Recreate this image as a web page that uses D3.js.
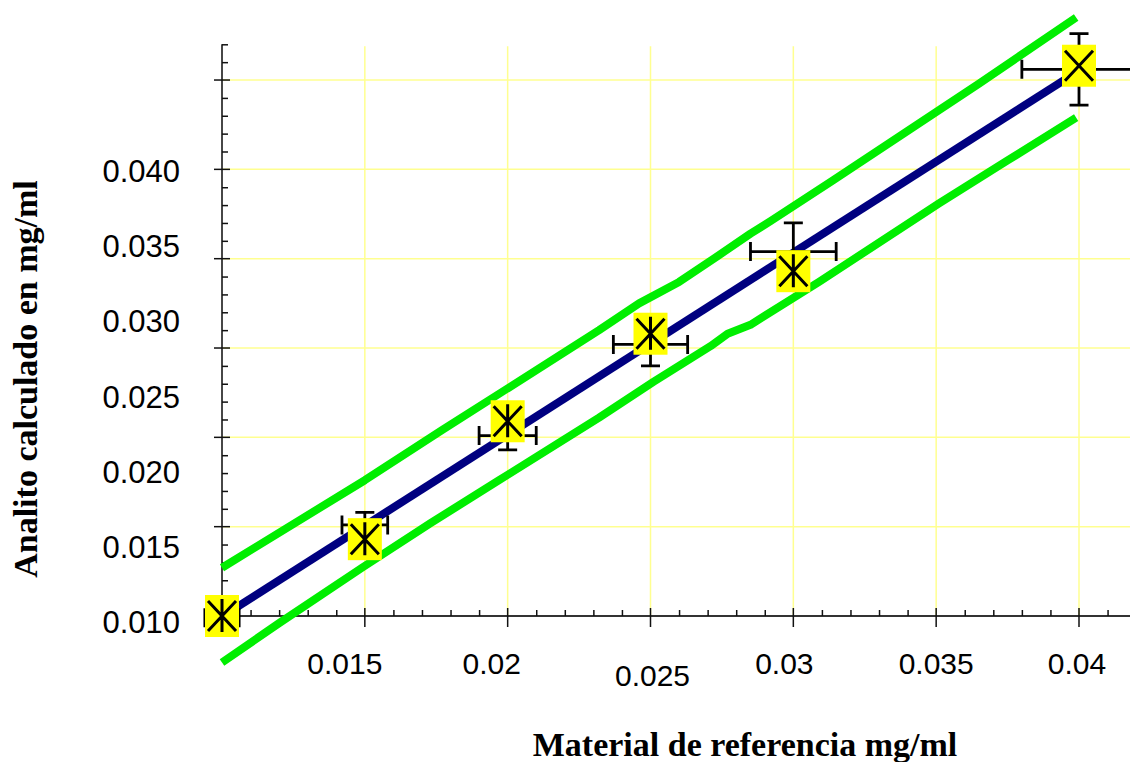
<!DOCTYPE html>
<html>
<head>
<meta charset="utf-8">
<script src="https://cdn.jsdelivr.net/npm/d3@7"></script>
<style>
  html, body { margin: 0; padding: 0; background: #ffffff; }
  svg { display: block; }
</style>
</head>
<body>
<svg id="chart" width="1130" height="762"></svg>
<script>
// Material de referencia (mg/ml) y analito calculado (mg/ml)
const referencia = [0.010, 0.015, 0.020, 0.025, 0.030, 0.040];
const calculado  = [0.0100, 0.0143, 0.0209, 0.0258, 0.0293, 0.0408];
// Media de las réplicas y su incertidumbre (barras de error)
const media      = [0.0099, 0.0151, 0.0201, 0.0252, 0.0304, 0.0406];
const errorX     = [0.0006, 0.0008, 0.0010, 0.0013, 0.0015, 0.0020];
const errorY     = [0.0008, 0.0007, 0.0008, 0.0012, 0.0016, 0.0020];

// Recta de regresión
const regresionX = [0.010, 0.040];
const regresionY = [0.00996, 0.04053];

// Límites de confianza
const bandaSupX = [0.0100, 0.0150, 0.0177, 0.0232, 0.0246, 0.0260, 0.0274, 0.0285, 0.0292, 0.0314, 0.0365, 0.0399];
const bandaSupY = [0.0127, 0.0176, 0.0204, 0.0260, 0.0275, 0.0287, 0.0302, 0.0314, 0.0321, 0.0344, 0.0398, 0.0435];
const bandaInfX = [0.0100, 0.0120, 0.0149, 0.0173, 0.0197, 0.0232, 0.0251, 0.0271, 0.0277, 0.0285, 0.0309, 0.0351, 0.0375, 0.0399];
const bandaInfY = [0.0074, 0.0096, 0.0127, 0.0152, 0.0176, 0.0211, 0.0231, 0.0251, 0.0258, 0.0263, 0.0287, 0.0331, 0.0355, 0.0379];

// Ejes
const xTicks = [0.015, 0.020, 0.025, 0.030, 0.035, 0.040];
const xTickLabels = ["0.015", "0.02", "0.025", "0.03", "0.035", "0.04"];
const yTicks = [0.015, 0.020, 0.025, 0.030, 0.035, 0.040];
const yTickLabels = ["0.010", "0.015", "0.020", "0.025", "0.030", "0.035", "0.040"];
const yLabelValues = [0.010, 0.015, 0.020, 0.025, 0.030, 0.035, 0.040];

const xTitle = "Material de referencia mg/ml";
const yTitle = "Analito calculado en mg/ml";

// ---- layout ----
const W = 1130, H = 762;
const plotLeft = 222, plotBottom = 616, plotTop = 44.3;
const svg = d3.select("#chart");

const x = d3.scaleLinear().domain([0.010, 0.040]).range([plotLeft, 1079]);
const y = d3.scaleLinear().domain([0.010, 0.042]).range([plotBottom, plotTop]);
// the value column beside the vertical axis is spaced on its own
const yLabelPos = d3.scaleLinear().domain([0.010, 0.040]).range([plotBottom + 6, plotBottom - 445]);
// small horizontal offsets of the value labels under the axis
const xLabelNudge = [-20, -16, 2, -9, 0, -2];
const xLabelDrop = [0, 0, 12, 0, 0, 0];

const gridColor = "#ffff90";
const axisColor = "#333";

// grid
const grid = svg.append("g");
grid.selectAll("line.v").data(xTicks).join("line")
  .attr("x1", d => x(d)).attr("x2", d => x(d))
  .attr("y1", plotBottom).attr("y2", plotTop + 2)
  .attr("stroke", gridColor).attr("stroke-width", 1.5);
grid.selectAll("line.h").data(yTicks).join("line")
  .attr("x1", plotLeft).attr("x2", W)
  .attr("y1", d => y(d)).attr("y2", d => y(d))
  .attr("stroke", gridColor).attr("stroke-width", 1.5);

// axes: minor ticks through d3.axis, major ticks crossing the line
const xMinor = d3.range(11, 42).map(i => i / 1000).filter(v => Math.round(v * 1000) % 5 !== 0);
const yMinor = d3.range(11, 43).map(i => i / 1000).filter(v => Math.round(v * 1000) % 5 !== 0);

const xAxis = svg.append("g").attr("transform", `translate(0,${plotBottom})`)
  .call(d3.axisTop(x).tickValues(xMinor).tickSize(6).tickSizeOuter(0).tickFormat(""));
xAxis.select(".domain").attr("d", `M${plotLeft},0H${W}`)
  .attr("stroke", axisColor).attr("stroke-width", 1.8);
xAxis.selectAll(".tick line").attr("stroke", "#111").attr("stroke-width", 1.5);
xAxis.selectAll(".major").data(xTicks).join("line").attr("class", "major")
  .attr("x1", d => x(d)).attr("x2", d => x(d))
  .attr("y1", -8).attr("y2", 11)
  .attr("stroke", "#111").attr("stroke-width", 1.5);

const yAxis = svg.append("g").attr("transform", `translate(${plotLeft},0)`)
  .call(d3.axisRight(y).tickValues(yMinor).tickSize(6).tickSizeOuter(0).tickFormat(""));
yAxis.select(".domain").attr("d", `M0,${plotTop}V${plotBottom}`)
  .attr("stroke", axisColor).attr("stroke-width", 1.8);
yAxis.selectAll(".tick line").attr("stroke", "#111").attr("stroke-width", 1.5);
yAxis.selectAll(".major").data(yTicks).join("line").attr("class", "major")
  .attr("x1", -8).attr("x2", 8)
  .attr("y1", d => y(d)).attr("y2", d => y(d))
  .attr("stroke", "#111").attr("stroke-width", 1.5);

// tick labels
svg.append("g").selectAll("text").data(xTickLabels).join("text")
  .attr("x", (d, i) => x(xTicks[i]) + xLabelNudge[i])
  .attr("y", (d, i) => plotBottom + 58 + xLabelDrop[i])
  .attr("text-anchor", "middle")
  .attr("font-family", "'Liberation Sans', Arial, sans-serif")
  .attr("font-size", 30).attr("fill", "#000")
  .text(d => d);

svg.append("g").selectAll("text").data(yTickLabels).join("text")
  .attr("x", 180)
  .attr("y", (d, i) => yLabelPos(yLabelValues[i]))
  .attr("dy", "0.36em")
  .attr("text-anchor", "end")
  .attr("font-family", "'Liberation Sans', Arial, sans-serif")
  .attr("font-size", 31).attr("fill", "#000")
  .text(d => d);

// titles
svg.append("text")
  .attr("x", 745).attr("y", 756)
  .attr("text-anchor", "middle")
  .attr("font-family", "'Liberation Serif', 'Times New Roman', serif")
  .attr("font-weight", "bold").attr("font-size", 34).attr("fill", "#000")
  .text(xTitle);
svg.append("text")
  .attr("transform", "translate(37,379) rotate(-90)")
  .attr("text-anchor", "middle")
  .attr("font-family", "'Liberation Serif', 'Times New Roman', serif")
  .attr("font-weight", "bold").attr("font-size", 34).attr("fill", "#000")
  .text(yTitle);

// confidence bands and regression line
const line = d3.line().x(d => x(d[0])).y(d => y(d[1]));
const bandColor = "#00ee00";
svg.append("path").datum(d3.zip(bandaSupX, bandaSupY))
  .attr("d", line).attr("fill", "none").attr("stroke", bandColor)
  .attr("stroke-width", 8).attr("stroke-linejoin", "round");
svg.append("path").datum(d3.zip(bandaInfX, bandaInfY))
  .attr("d", line).attr("fill", "none").attr("stroke", bandColor)
  .attr("stroke-width", 8).attr("stroke-linejoin", "round");
svg.append("path").datum(d3.zip(regresionX, regresionY))
  .attr("d", line).attr("fill", "none").attr("stroke", "#000080")
  .attr("stroke-width", 8);

// error bars
const puntos = referencia.map((r, i) => ({
  ref: r, calc: calculado[i], media: media[i], ex: errorX[i], ey: errorY[i], i
}));
const cap = 9.5;
const eb = svg.append("g").attr("stroke", "#000").attr("stroke-width", 2.8).attr("fill", "none");
puntos.forEach(p => {
  const cx = x(p.ref), cy = y(p.media);
  const x0 = x(p.ref - p.ex), x1 = x(p.ref + p.ex);
  const y0 = y(p.media - p.ey), y1 = y(p.media + p.ey);
  eb.append("path").attr("d",
    `M${x0},${cy}H${x1}` +
    `M${x0},${cy - cap}V${cy + cap}M${x1},${cy - cap}V${cy + cap}` +
    `M${cx},${y0}V${y1}` +
    `M${cx - cap},${y0}H${cx + cap}M${cx - cap},${y1}H${cx + cap}`);
});

// markers: yellow square with asterisk
const mk = svg.append("g").selectAll("g").data(puntos).join("g")
  .attr("transform", d => `translate(${x(d.ref)},${y(d.calc)})`);
mk.append("rect").attr("x", -17).attr("y", -21).attr("width", 34).attr("height", 42)
  .attr("fill", "#ffff00");
mk.append("path")
  .attr("d", (d, i) => "M-14,-15L14,15M14,-15L-14,15" + (i < puntos.length - 1 ? "M0,-17V16" : ""))
  .attr("stroke", "#000").attr("stroke-width", 3).attr("fill", "none");
</script>
</body>
</html>
